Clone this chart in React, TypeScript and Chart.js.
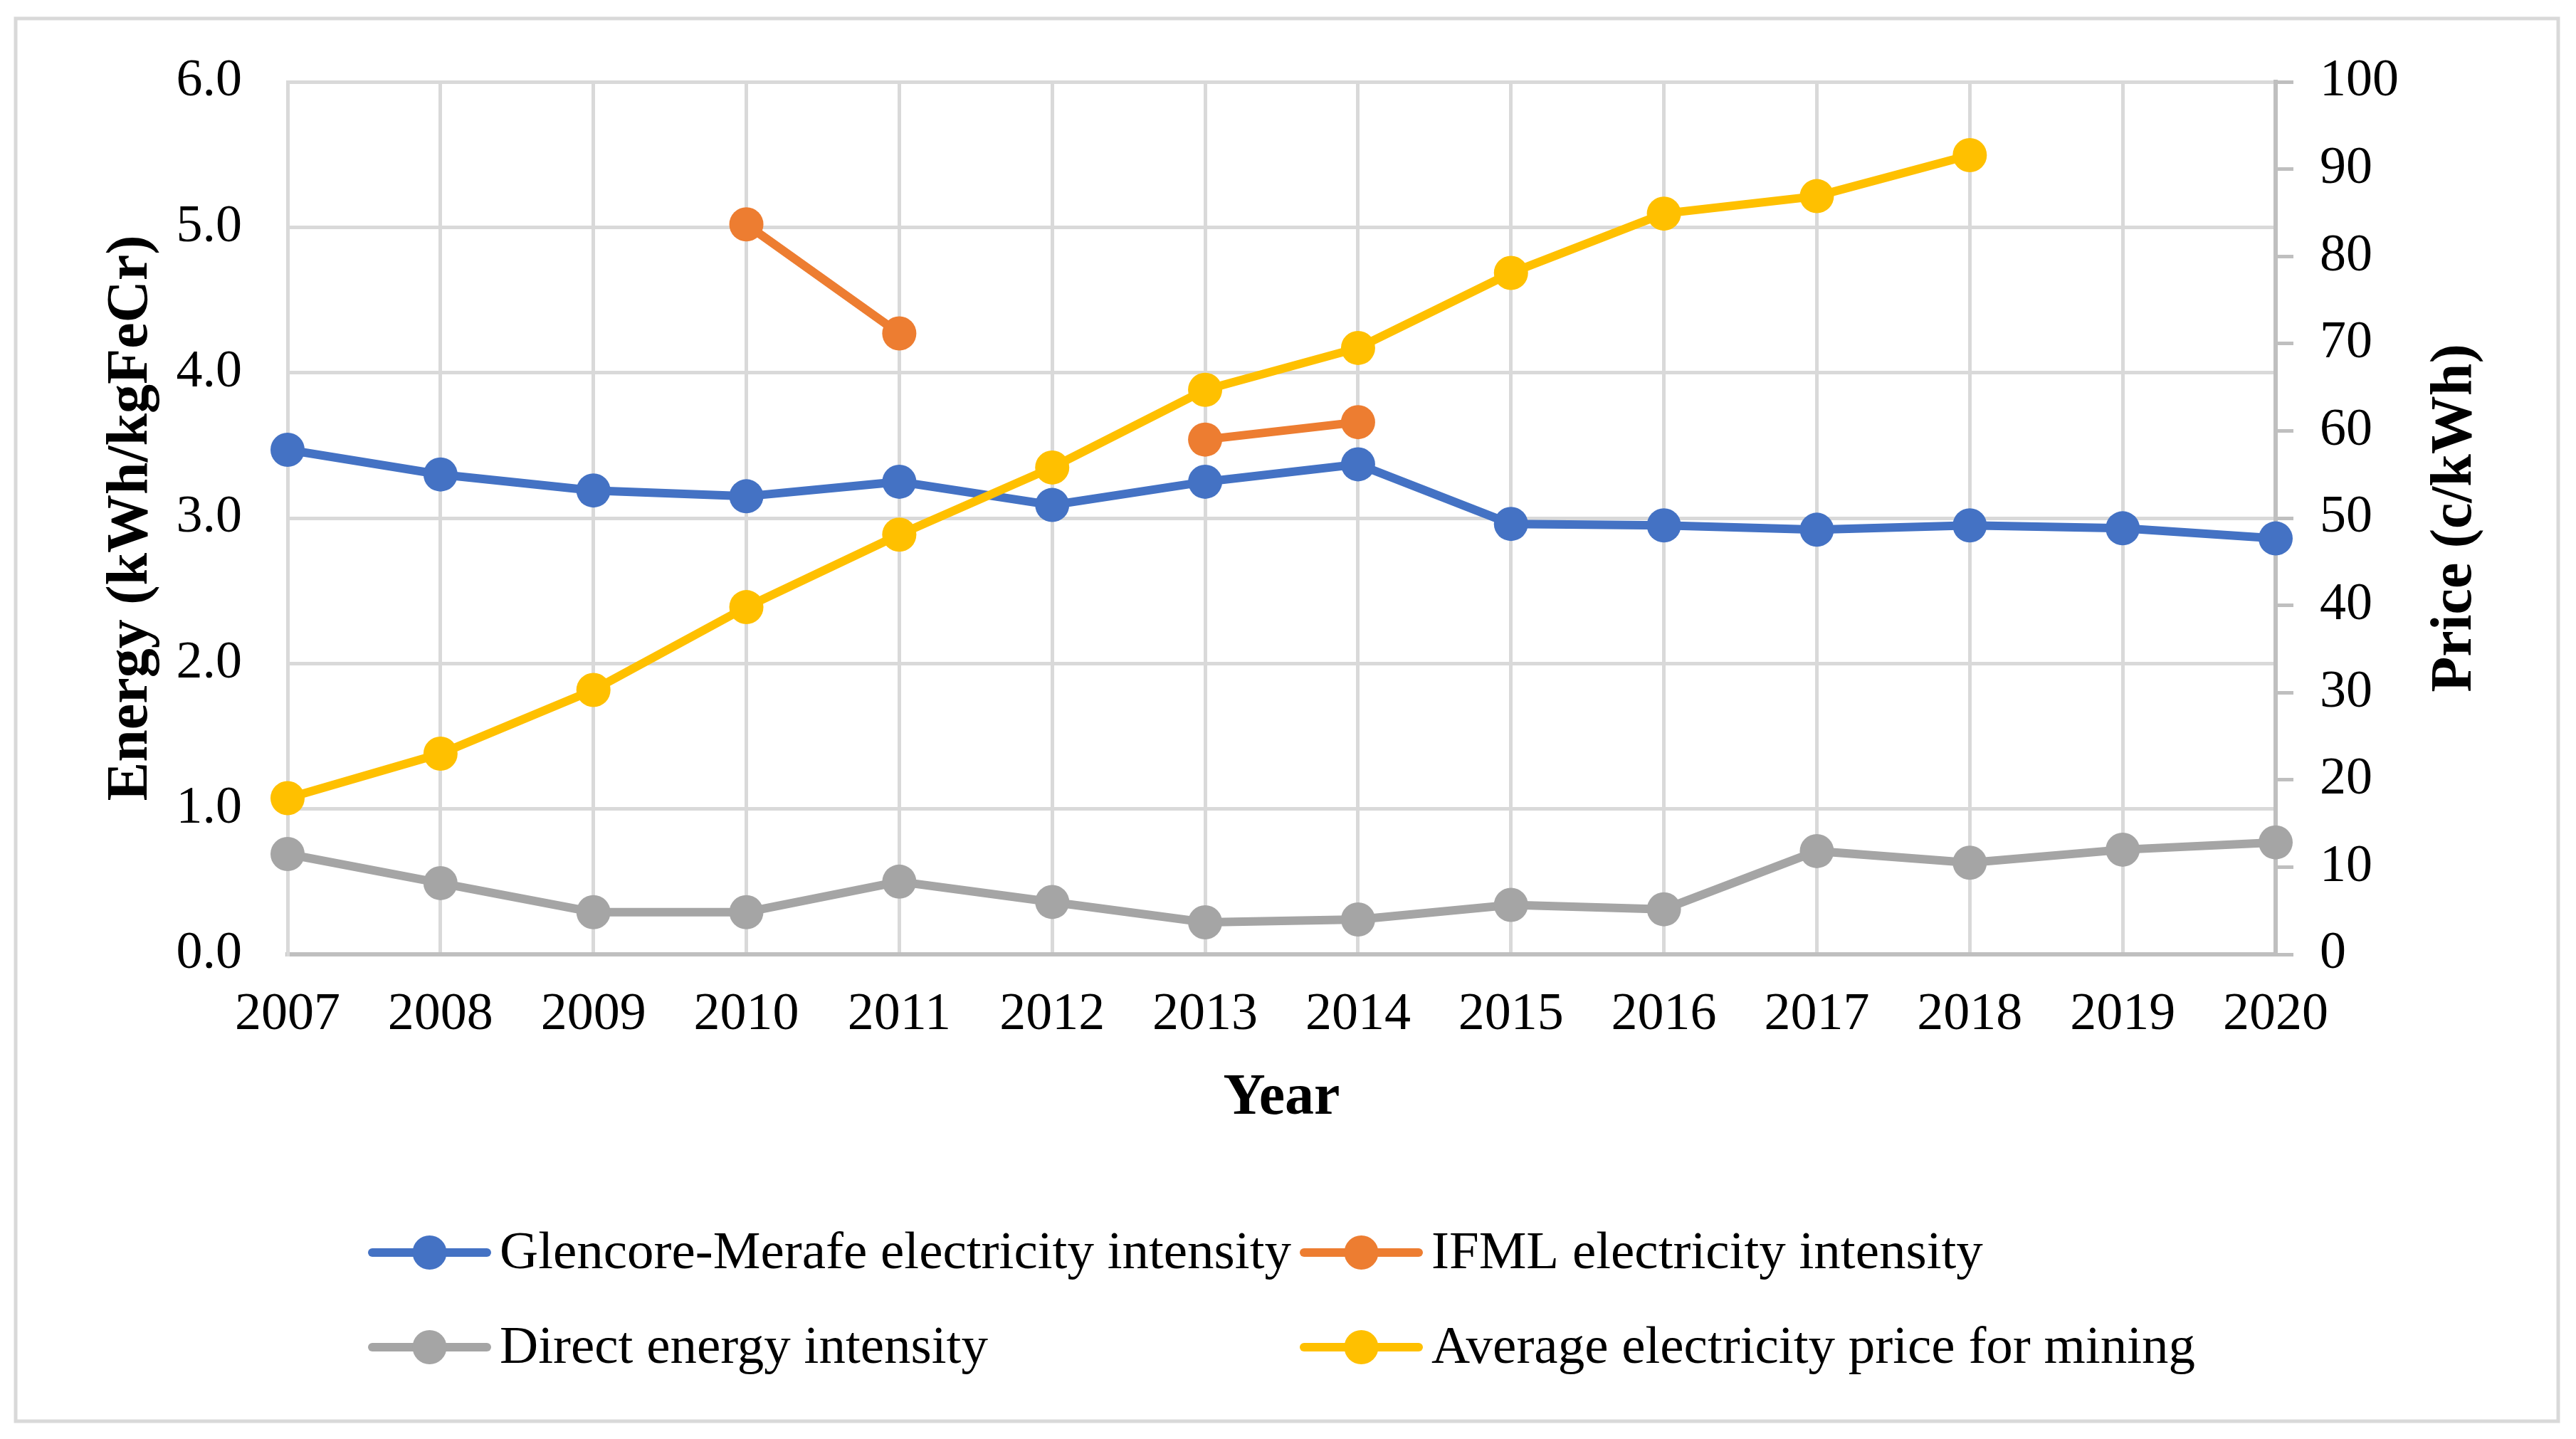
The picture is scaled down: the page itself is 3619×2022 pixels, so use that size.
import { useEffect, useRef } from "react";
import { Chart, registerables } from "chart.js";

Chart.register(...registerables);

const years = ["2007", "2008", "2009", "2010", "2011", "2012", "2013", "2014", "2015", "2016", "2017", "2018", "2019", "2020"];
const glencoreIntensity = [3.47, 3.30, 3.19, 3.15, 3.25, 3.09, 3.25, 3.37, 2.96, 2.95, 2.92, 2.95, 2.93, 2.86];
const ifmlIntensity = [null, null, null, 5.02, 4.27, null, 3.54, 3.66, null, null, null, null, null, null];
const directIntensity = [0.69, 0.49, 0.29, 0.29, 0.50, 0.36, 0.22, 0.24, 0.34, 0.31, 0.71, 0.63, 0.72, 0.77];
const miningPrice = [17.9, 23.0, 30.3, 39.8, 48.1, 55.8, 64.7, 69.5, 78.1, 84.9, 86.9, 91.6, null, null];

const seriesLabels = [
  "Glencore-Merafe electricity intensity",
  "IFML electricity intensity",
  "Direct energy intensity",
  "Average electricity price for mining",
];
const leftTitle = "Energy (kWh/kgFeCr)";
const rightTitle = "Price (c/kWh)";
const bottomTitle = "Year";

const FONT = "'Liberation Serif', 'Times New Roman', serif";
const W = 3619;
const H = 2022;

const framePlugin = {
  id: "frame",
  beforeDraw(chart: any) {
    const ctx = chart.ctx;
    ctx.save();
    ctx.fillStyle = "#ffffff";
    ctx.fillRect(0, 0, chart.width, chart.height);
    ctx.strokeStyle = "#d9d9d9";
    ctx.lineWidth = 5;
    ctx.strokeRect(22, 26, 3572, 1971);
    ctx.restore();
  },
};

const extrasPlugin = {
  id: "extras",
  afterDraw(chart: any, _args: any, opts: any) {
    const ctx = chart.ctx;
    ctx.save();
    const ca = chart.chartArea;
    ctx.translate(opts.rightTitleX, (ca.top + ca.bottom) / 2);
    ctx.rotate(-Math.PI / 2);
    ctx.font = `bold 82px ${FONT}`;
    ctx.fillStyle = "#000";
    ctx.textAlign = "center";
    ctx.textBaseline = "middle";
    ctx.fillText(opts.rightTitle, 0, 0);
    ctx.restore();

    ctx.save();
    chart.data.datasets.forEach((ds: any, i: number) => {
      const x = opts.columns[i % 2];
      const y = opts.rows[Math.floor(i / 2)];
      ctx.strokeStyle = ds.borderColor;
      ctx.lineWidth = 12;
      ctx.lineCap = "round";
      ctx.beginPath();
      ctx.moveTo(x + 6, y);
      ctx.lineTo(x + opts.lineLength - 6, y);
      ctx.stroke();
      ctx.fillStyle = ds.backgroundColor;
      ctx.beginPath();
      ctx.arc(x + opts.lineLength / 2, y, 24, 0, Math.PI * 2);
      ctx.fill();
      ctx.fillStyle = "#000";
      ctx.font = `75px ${FONT}`;
      ctx.textAlign = "left";
      ctx.textBaseline = "middle";
      ctx.fillText(ds.label, x + opts.lineLength + opts.gap, y + 2);
    });
    ctx.restore();
  },
};

export default function App() {
  const ref = useRef<HTMLCanvasElement | null>(null);

  useEffect(() => {
    if (!ref.current) return;
    const mk = (label: string, data: any[], color: string, axis: string, order: number) => ({
      label,
      data,
      borderColor: color,
      backgroundColor: color,
      pointBackgroundColor: color,
      pointBorderColor: color,
      borderWidth: 12,
      pointRadius: 24,
      pointBorderWidth: 0,
      pointHoverRadius: 24,
      tension: 0,
      spanGaps: false,
      yAxisID: axis,
      order,
    });
    const chart = new Chart(ref.current, {
      type: "line",
      data: {
        labels: years,
        datasets: [
          mk(seriesLabels[0], glencoreIntensity, "#4472C4", "y", 4),
          mk(seriesLabels[1], ifmlIntensity, "#ED7D31", "y", 3),
          mk(seriesLabels[2], directIntensity, "#A5A5A5", "y", 2),
          mk(seriesLabels[3], miningPrice, "#FFC000", "y1", 1),
        ],
      },
      plugins: [framePlugin, extrasPlugin],
      options: {
        responsive: false,
        animation: false,
        devicePixelRatio: 1,
        layout: { padding: { left: 0, right: 0, top: 115, bottom: 401 } },
        plugins: {
          legend: { display: false },
          tooltip: { enabled: false },
          extras: {
            rightTitle,
            rightTitleX: 3450,
            columns: [517, 1826],
            rows: [1760, 1893],
            lineLength: 173,
            gap: 12,
          },
        } as any,
        scales: {
          x: {
            type: "category",
            offset: false,
            grid: { color: "#d9d9d9", lineWidth: 5, drawTicks: false },
            border: { color: "#bfbfbf", width: 6 },
            ticks: { color: "#000", font: { family: FONT, size: 74 }, padding: 41, maxRotation: 0, autoSkip: false },
            title: {
              display: true,
              text: bottomTitle,
              color: "#000",
              font: { family: FONT, size: 82, weight: "bold" },
              padding: { top: 0, bottom: 28 },
            },
            afterFit: (s: any) => {
              s.height = 280;
            },
          },
          y: {
            position: "left",
            min: 0,
            max: 6,
            grid: { color: "#d9d9d9", lineWidth: 5, drawTicks: false },
            border: { color: "#d9d9d9", width: 5 },
            ticks: {
              stepSize: 1,
              color: "#000",
              font: { family: FONT, size: 74 },
              padding: 64,
              callback: (v: any) => Number(v).toFixed(1),
            },
            title: {
              display: true,
              text: leftTitle,
              color: "#000",
              font: { family: FONT, size: 82, weight: "bold" },
              padding: { top: 136, bottom: 0 },
            },
            afterFit: (s: any) => {
              s.width = 404;
            },
          },
          y1: {
            position: "right",
            min: 0,
            max: 100,
            grid: { drawOnChartArea: false, drawTicks: true, tickLength: 25, tickColor: "#bfbfbf", lineWidth: 5, color: "#bfbfbf" },
            border: { color: "#bfbfbf", width: 6 },
            ticks: { stepSize: 10, color: "#000", font: { family: FONT, size: 74 }, padding: 37 },
            title: { display: false },
            afterFit: (s: any) => {
              s.width = 422;
            },
          },
        },
      } as any,
    });
    return () => chart.destroy();
  }, []);

  return (
    <div style={{ position: "absolute", left: 0, top: 0, width: W, height: H, background: "#fff" }}>
      <canvas ref={ref} width={W} height={H} style={{ width: W, height: H, display: "block" }} />
    </div>
  );
}
